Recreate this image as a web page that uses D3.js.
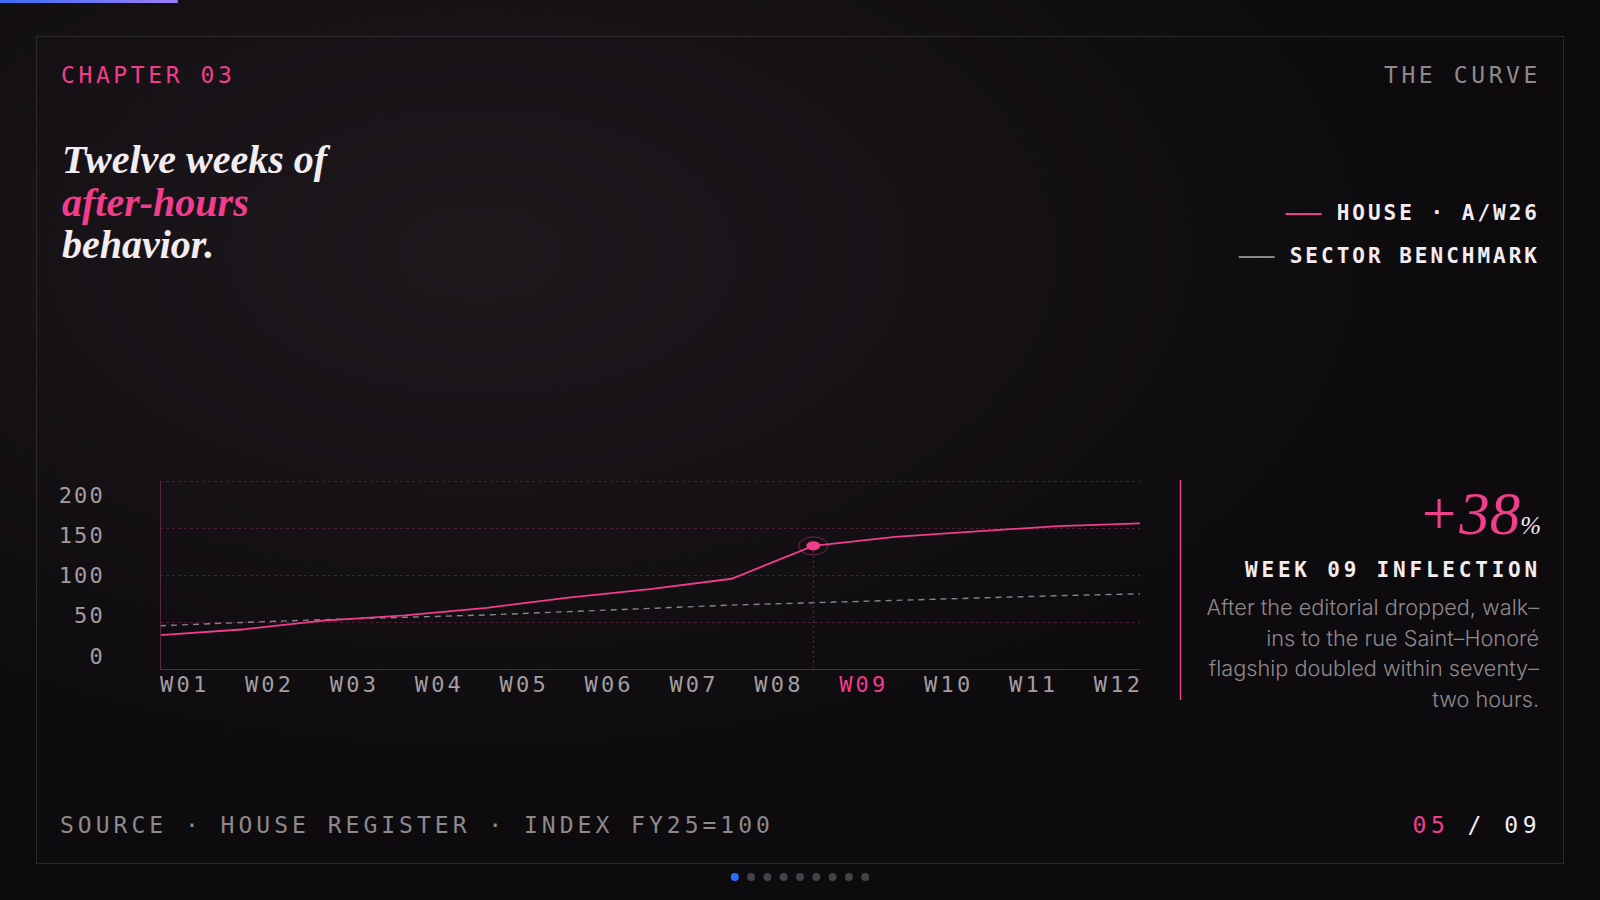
<!DOCTYPE html>
<meta charset="utf-8">

<script src="https://d3js.org/d3.v7.min.js"></script>

<style type="text/css">

html, body { margin: 0; padding: 0; background: #0e0c0f; overflow: hidden; }
svg { display: block; }
.mono { font-family: "DejaVu Sans Mono", monospace; }
.serif { font-family: "Liberation Serif", serif; }

</style>

<body>
</body>

<script>

// chart values
var weeks = ["W01", "W02", "W03", "W04", "W05", "W06", "W07", "W08", "W09", "W10", "W11", "W12"];
var house = [36, 42, 51.5, 57, 65, 76, 85, 96, 131, 140.5, 146.5, 152, 155];
var bench = [46, 49.5, 52.5, 55, 57.5, 61, 64.5, 68, 70.5, 73, 75.5, 78, 80];
var yTicks = [200, 150, 100, 50, 0];
var highlight = 8;

var titleLines = [
  {text: "Twelve weeks of", pink: false},
  {text: "after-hours", pink: true},
  {text: "behavior.", pink: false}
];
var legendItems = [
  {label: "HOUSE · A/W26", color: "#f23d8c"},
  {label: "SECTOR BENCHMARK", color: "#8c8789"}
];
var noteLines = [
  "After the editorial dropped, walk–",
  "ins to the rue Saint–Honoré",
  "flagship doubled within seventy–",
  "two hours."
];
var navDots = [1, 0, 0, 0, 0, 0, 0, 0, 0];

var pink = "#f23d8c";
var white = "#f3ecf0";
var grey = "#8e898b";

var W = 1600, H = 900;

var svg = d3.select("body").append("svg")
  .attr("width", W)
  .attr("height", H);

var defs = svg.append("defs");

var glow = defs.append("radialGradient")
  .attr("id", "glow")
  .attr("cx", 0.3).attr("cy", 0.28).attr("r", 0.6);
glow.append("stop").attr("offset", "0%").attr("stop-color", "#1e181d");
glow.append("stop").attr("offset", "100%").attr("stop-color", "#0d0b0e");

var bar = defs.append("linearGradient").attr("id", "bar");
bar.append("stop").attr("offset", "0%").attr("stop-color", "#3a6cf4");
bar.append("stop").attr("offset", "100%").attr("stop-color", "#9d80f5");

svg.append("rect").attr("width", W).attr("height", H).attr("fill", "url(#glow)");

// progress bar
svg.append("rect")
  .attr("x", 0).attr("y", 0)
  .attr("width", W / navDots.length).attr("height", 3)
  .attr("fill", "url(#bar)");

// frame
svg.append("rect")
  .attr("x", 36.5).attr("y", 36.5)
  .attr("width", W - 73).attr("height", H - 73)
  .attr("fill", "none")
  .attr("stroke", "#2c292c");

// header
svg.append("text").attr("class", "mono")
  .attr("x", 61).attr("y", 83)
  .attr("font-size", 23).attr("letter-spacing", 3.6)
  .attr("fill", pink)
  .text("CHAPTER 03");

svg.append("text").attr("class", "mono")
  .attr("x", 1541).attr("y", 83)
  .attr("text-anchor", "end")
  .attr("font-size", 23).attr("letter-spacing", 3.6)
  .attr("fill", grey)
  .text("THE CURVE");

// title
svg.append("g").selectAll("text")
  .data(titleLines)
  .enter().append("text")
  .attr("class", "serif")
  .attr("x", 62)
  .attr("y", function(d, i) { return 173 + i * 42.5; })
  .attr("font-size", 40)
  .attr("font-style", "italic")
  .attr("font-weight", "bold")
  .attr("fill", function(d) { return d.pink ? pink : white; })
  .text(function(d) { return d.text; });

// legend
var legend = svg.append("g").selectAll("g")
  .data(legendItems)
  .enter().append("g")
  .attr("transform", function(d, i) { return "translate(0," + (220 + i * 43) + ")"; });

legend.append("text").attr("class", "mono")
  .attr("x", 1540).attr("y", 0)
  .attr("text-anchor", "end")
  .attr("font-size", 21).attr("letter-spacing", 3)
  .attr("font-weight", "bold")
  .attr("fill", white)
  .text(function(d) { return d.label; })
  .each(function(d) { d.w = this.getComputedTextLength(); });

legend.append("line")
  .attr("x1", function(d) { return 1540 - d.w - 51; })
  .attr("x2", function(d) { return 1540 - d.w - 15; })
  .attr("y1", -6).attr("y2", -6)
  .attr("stroke", function(d) { return d.color; })
  .attr("stroke-width", 2);

// chart
var plot = {left: 160, right: 1140, top: 481, bottom: 669};

var xScale = d3.scaleLinear()
  .domain([0, house.length - 1])
  .range([plot.left, plot.right]);

var yScale = d3.scaleLinear()
  .domain([0, 200])
  .range([plot.bottom, plot.top]);

var chart = svg.append("g");

chart.selectAll(".grid")
  .data(yTicks.filter(function(t) { return t > 0; }))
  .enter().append("line")
  .attr("class", "grid")
  .attr("x1", plot.left).attr("x2", plot.right)
  .attr("y1", function(d) { return yScale(d) + 0.5; })
  .attr("y2", function(d) { return yScale(d) + 0.5; })
  .attr("stroke", "#4d1f35")
  .attr("stroke-dasharray", "3,3");

var line = d3.line()
  .x(function(d, i) { return xScale(i); })
  .y(function(d) { return yScale(d); });

chart.append("path")
  .datum(bench)
  .attr("d", line)
  .attr("fill", "none")
  .attr("stroke", "#86818a")
  .attr("stroke-width", 1.4)
  .attr("stroke-dasharray", "6,5");

// marker drop line
chart.append("line")
  .attr("x1", xScale(highlight)).attr("x2", xScale(highlight))
  .attr("y1", yScale(house[highlight])).attr("y2", plot.bottom)
  .attr("stroke", "#6e2a4b")
  .attr("stroke-dasharray", "2,3");

chart.append("path")
  .datum(house)
  .attr("d", line)
  .attr("fill", "none")
  .attr("stroke", pink)
  .attr("stroke-width", 1.8);

// axes
chart.append("line")
  .attr("x1", plot.left + 0.5).attr("x2", plot.left + 0.5)
  .attr("y1", plot.top).attr("y2", plot.bottom)
  .attr("stroke", "#5e2443");
chart.append("line")
  .attr("x1", plot.left).attr("x2", plot.right)
  .attr("y1", plot.bottom + 0.5).attr("y2", plot.bottom + 0.5)
  .attr("stroke", "#5e2443");

// highlighted point
chart.append("ellipse")
  .attr("cx", xScale(highlight)).attr("cy", yScale(house[highlight]))
  .attr("rx", 14.5).attr("ry", 9)
  .attr("fill", "none")
  .attr("stroke", pink).attr("stroke-opacity", 0.45);
chart.append("ellipse")
  .attr("cx", xScale(highlight)).attr("cy", yScale(house[highlight]))
  .attr("rx", 7).attr("ry", 4.6)
  .attr("fill", pink);

// y labels, spread over the plot height
var yLab = d3.scalePoint()
  .domain(yTicks)
  .range([plot.top + 13.5, plot.bottom - 13.5]);

chart.selectAll(".ylab")
  .data(yTicks)
  .enter().append("text")
  .attr("class", "mono ylab")
  .attr("x", 105)
  .attr("y", function(d) { return yLab(d) + 8; })
  .attr("text-anchor", "end")
  .attr("font-size", 22).attr("letter-spacing", 2.2)
  .attr("fill", "#a39da0")
  .text(function(d) { return d; });

// x labels, spread over the plot width
var xLabels = chart.selectAll(".xlab")
  .data(weeks)
  .enter().append("text")
  .attr("class", "mono xlab")
  .attr("y", 692)
  .attr("font-size", 22).attr("letter-spacing", 3.2)
  .attr("fill", function(d, i) { return i === highlight ? pink : "#a39da0"; })
  .text(function(d) { return d; });

var labW = d3.max(xLabels.nodes(), function(n) { return n.getComputedTextLength(); }) - 3.2;
var xLab = d3.scalePoint()
  .domain(weeks)
  .range([plot.left, plot.right - labW]);
xLabels.attr("x", function(d) { return xLab(d); });

// annotation
svg.append("line")
  .attr("x1", 1180.5).attr("x2", 1180.5)
  .attr("y1", 480).attr("y2", 700)
  .attr("stroke", pink).attr("stroke-width", 1.5);

var big = svg.append("text")
  .attr("class", "serif")
  .attr("x", 1541).attr("y", 534)
  .attr("text-anchor", "end")
  .attr("font-style", "italic");
big.append("tspan").attr("font-size", 61).attr("fill", pink).text("+38");
big.append("tspan").attr("font-size", 25).attr("fill", white).text("%");

svg.append("text").attr("class", "mono")
  .attr("x", 1541).attr("y", 577)
  .attr("text-anchor", "end")
  .attr("font-size", 21).attr("letter-spacing", 3.8)
  .attr("font-weight", "bold")
  .attr("fill", white)
  .text("WEEK 09 INFLECTION");

svg.append("g").selectAll("text")
  .data(noteLines)
  .enter().append("text")
  .attr("x", 1539)
  .attr("y", function(d, i) { return 615 + i * 30.5; })
  .attr("text-anchor", "end")
  .attr("font-family", "Inter, sans-serif")
  .attr("font-weight", 300)
  .attr("font-size", 21.7)
  .attr("fill", "#8f898c")
  .text(function(d) { return d; });

// footer
svg.append("text").attr("class", "mono")
  .attr("x", 60).attr("y", 833)
  .attr("font-size", 23).attr("letter-spacing", 4)
  .attr("fill", grey)
  .text("SOURCE · HOUSE REGISTER · INDEX FY25=100");

var pg = svg.append("text").attr("class", "mono")
  .attr("x", 1541).attr("y", 833)
  .attr("text-anchor", "end")
  .attr("font-size", 23).attr("letter-spacing", 4.5);
pg.append("tspan").attr("fill", pink).text("05");
pg.append("tspan").attr("fill", white).text(" / 09");

// slide dots
svg.append("g").selectAll("circle")
  .data(navDots)
  .enter().append("circle")
  .attr("cx", function(d, i) { return 800 + (i - (navDots.length - 1) / 2) * 16.3; })
  .attr("cy", 877)
  .attr("r", 4)
  .attr("fill", function(d) { return d ? "#2f6bff" : "#454247"; });

</script>
